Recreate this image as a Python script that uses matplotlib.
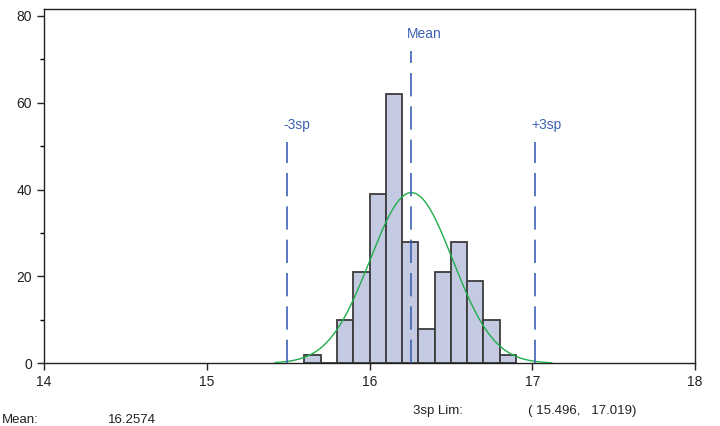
import numpy as np
import matplotlib.pyplot as plt
from matplotlib.ticker import MultipleLocator

# histogram of measurements, bin width 0.1
bin_edges = [15.6, 15.7, 15.8, 15.9, 16.0, 16.1, 16.2, 16.3, 16.4, 16.5, 16.6, 16.7, 16.8, 16.9]
counts = [2, 0, 10, 21, 39, 62, 28, 8, 21, 28, 19, 10, 2]

mean = 16.2574
lim_lo, lim_hi = 15.496, 17.019
sigma = (lim_hi - lim_lo) / 6
n_total = sum(counts)
bin_w = 0.1

plt.rcParams['font.family'] = ['Liberation Sans', 'DejaVu Sans']

fig = plt.figure(figsize=(7.2, 4.26), dpi=100)
ax = fig.add_axes([0.0611, 0.1472, 0.9042, 0.8310])

lefts = bin_edges[:-1]
ax.bar(lefts, counts, width=bin_w, align='edge', color='#c5cae3',
       edgecolor='#3c3c3c', linewidth=1.3, zorder=2)

# fitted normal curve scaled to counts
xs = np.linspace(15.42, 17.12, 300)
ys = n_total * bin_w / (sigma * np.sqrt(2 * np.pi)) * np.exp(-0.5 * ((xs - mean) / sigma) ** 2)
ax.plot(xs, ys, color='#1fae4a', linewidth=1.0, zorder=3)

# mean and +/- 3 sigma reference lines
line_col = '#3d62b3'
for x, top, label in [(lim_lo, 51, '-3sp'), (mean, 72, 'Mean'), (lim_hi, 51, '+3sp')]:
    ax.plot([x, x], [0, top], color=line_col, linewidth=1.2,
            dashes=(14, 6), zorder=4)
    ax.text(x - 0.025, top + 3.8, label, color=line_col, fontsize=10,
            ha='left', va='center')

ax.set_xlim(14, 18)
ax.set_ylim(0, 81.5)
ax.set_xticks([14, 15, 16, 17, 18])
ax.set_yticks([0, 20, 40, 60, 80])
ax.yaxis.set_minor_locator(MultipleLocator(10))
ax.tick_params(axis='both', direction='out', labelsize=10, colors='#222222',
               length=5, width=1)
ax.tick_params(axis='y', which='minor', direction='out', length=3, width=1)
for s in ax.spines.values():
    s.set_color('#222222')
    s.set_linewidth(1)

# summary statistics below the plot
fig.text(413 / 720, 1 - 411 / 426, '3sp Lim:', fontsize=9.5, va='center', color='#222222')
fig.text(528 / 720, 1 - 411 / 426, f'( {lim_lo:.3f},   {lim_hi:.3f})', fontsize=9.5,
         va='center', color='#222222')
fig.text(2 / 720, 1 - 420 / 426, 'Mean:', fontsize=9.5, va='center', color='#222222')
fig.text(108 / 720, 1 - 420 / 426, f'{mean:.4f}', fontsize=9.5, va='center', color='#222222')

fig.savefig('out.png', dpi=100)
